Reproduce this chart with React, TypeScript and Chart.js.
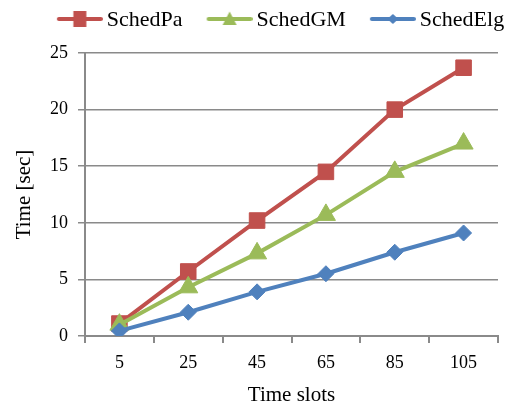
import React, { useEffect, useRef } from 'react';
import { Chart, registerables } from 'chart.js';

Chart.register(...registerables);

const categories = ['5', '25', '45', '65', '85', '105'];
const schedPa = [1.1, 5.7, 10.2, 14.5, 20.0, 23.7];
const schedGM = [1.0, 4.3, 7.3, 10.7, 14.5, 17.0];
const schedElg = [0.45, 2.1, 3.9, 5.5, 7.4, 9.1];
const seriesNames = ['SchedPa', 'SchedGM', 'SchedElg'];
const yMin = 0;
const yMax = 25;
const yStep = 5;
const xTitle = 'Time slots';
const yTitle = 'Time [sec]';

const RED = '#C0504D';
const GREEN = '#9BBB59';
const BLUE = '#4F81BD';
const GRID = '#8a8a8a';
const FONT = '"Liberation Serif", "Times New Roman", serif';

function makeIcon(color: string, style: string): HTMLCanvasElement {
  const c = document.createElement('canvas');
  const W = 76;
  const H = 26;
  const lineW = 46;
  c.width = W;
  c.height = H;
  const ctx = c.getContext('2d')!;
  const x0 = W - lineW;
  const cy = 12;
  ctx.strokeStyle = color;
  ctx.lineWidth = 4;
  ctx.lineCap = 'round';
  ctx.beginPath();
  ctx.moveTo(x0 + 2, cy);
  ctx.lineTo(W - 2, cy);
  ctx.stroke();
  const cx = x0 + lineW / 2;
  ctx.fillStyle = color;
  ctx.beginPath();
  if (style === 'rect') {
    ctx.rect(cx - 6.5, cy - 8, 13, 16);
  } else if (style === 'triangle') {
    ctx.moveTo(cx, cy - 7.5);
    ctx.lineTo(cx + 7, cy + 6);
    ctx.lineTo(cx - 7, cy + 6);
    ctx.closePath();
  } else {
    ctx.moveTo(cx - 5.5, cy);
    ctx.lineTo(cx, cy - 5);
    ctx.lineTo(cx + 5.5, cy);
    ctx.lineTo(cx, cy + 5);
    ctx.closePath();
  }
  ctx.fill();
  return c;
}

export default function App() {
  const ref = useRef<HTMLCanvasElement | null>(null);

  useEffect(() => {
    if (!ref.current) return;
    const icons = [makeIcon(RED, 'rect'), makeIcon(GREEN, 'triangle'), makeIcon(BLUE, 'diamond')];
    const chart = new Chart(ref.current, {
      type: 'line',
      data: {
        labels: categories,
        datasets: [
          {
            label: seriesNames[0],
            data: schedPa,
            borderColor: RED,
            backgroundColor: RED,
            borderWidth: 4,
            pointStyle: 'rect',
            pointRadius: 11,
            pointBorderWidth: 1,
            pointBackgroundColor: RED,
            pointBorderColor: RED,
            order: 2,
          },
          {
            label: seriesNames[1],
            data: schedGM,
            borderColor: GREEN,
            backgroundColor: GREEN,
            borderWidth: 4,
            pointStyle: 'triangle',
            pointRadius: 11,
            pointBorderWidth: 1,
            pointBackgroundColor: GREEN,
            pointBorderColor: GREEN,
            order: 1,
          },
          {
            label: seriesNames[2],
            data: schedElg,
            borderColor: BLUE,
            backgroundColor: BLUE,
            borderWidth: 4,
            pointStyle: 'rectRot',
            pointRadius: 8,
            pointBorderWidth: 1,
            pointBackgroundColor: BLUE,
            pointBorderColor: BLUE,
            order: 0,
          },
        ],
      },
      options: {
        animation: false,
        responsive: false,
        maintainAspectRatio: false,
        layout: { padding: { left: 28, right: 0, top: 8, bottom: 0 } },
        plugins: {
          tooltip: { enabled: false },
          title: {
            display: true,
            text: '',
            weight: 500,
            font: { size: 1, lineHeight: 1 },
            padding: { top: 0, bottom: 11 },
          },
          legend: {
            display: true,
            position: 'top',
            labels: {
              usePointStyle: true,
              pointStyleWidth: 62,
              padding: 1,
              color: '#000',
              font: { family: FONT, size: 22 },
              generateLabels: (c: any) => {
                const items = Chart.defaults.plugins.legend.labels.generateLabels(c);
                items.sort((a: any, b: any) => a.datasetIndex - b.datasetIndex);
                items.forEach((it: any) => {
                  it.pointStyle = icons[it.datasetIndex];
                });
                return items;
              },
            },
          },
        },
        scales: {
          x: {
            type: 'category',
            offset: true,
            grid: {
              offset: true,
              drawOnChartArea: false,
              drawTicks: true,
              tickLength: 7,
              color: GRID,
              lineWidth: 2,
            },
            border: { color: GRID, width: 2 },
            ticks: {
              color: '#000',
              font: { family: FONT, size: 18 },
              padding: 9,
              maxRotation: 0,
            },
            title: {
              display: true,
              text: xTitle,
              color: '#000',
              font: { family: FONT, size: 21, lineHeight: 1 },
              padding: { top: 0, bottom: -0.5 },
            },
            afterFit: (s: any) => {
              s.height = 69;
            },
          },
          y: {
            type: 'linear',
            min: yMin,
            max: yMax,
            grid: {
              color: GRID,
              lineWidth: 1.5,
              drawTicks: true,
              tickLength: 7,
            },
            border: { color: GRID, width: 2 },
            ticks: {
              stepSize: yStep,
              color: '#000',
              font: { family: FONT, size: 18 },
              padding: 10,
            },
            title: {
              display: true,
              text: yTitle,
              color: '#000',
              font: { family: FONT, size: 21, lineHeight: 1 },
              padding: { top: -14, bottom: 0 },
            },
            afterFit: (s: any) => {
              s.width = 57;
            },
          },
        },
      },
    });
    return () => chart.destroy();
  }, []);

  return (
    <div style={{ position: 'fixed', left: 0, top: 0, width: 510, height: 405, background: '#fff' }}>
      <canvas ref={ref} width={510} height={405} style={{ width: 510, height: 405, display: 'block' }} />
    </div>
  );
}
